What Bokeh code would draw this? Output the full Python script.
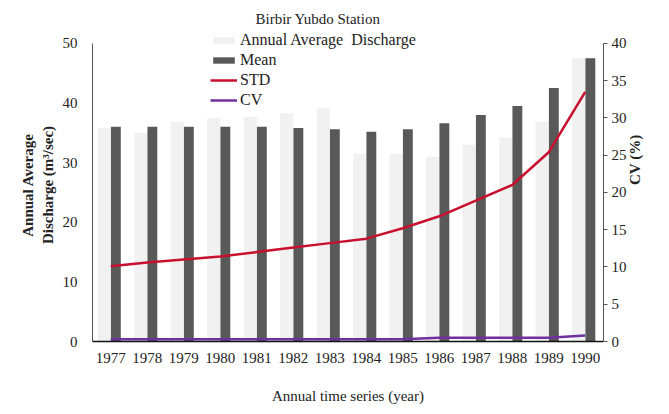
import math
from bokeh.plotting import figure
from bokeh.models import (Range1d, LinearAxis, Legend, LegendItem,
                          FactorRange, ColumnDataSource, FixedTicker)
from bokeh.transform import dodge
from bokeh.embed import file_html
from bokeh.resources import INLINE

years = ["1977", "1978", "1979", "1980", "1981", "1982", "1983",
         "1984", "1985", "1986", "1987", "1988", "1989", "1990"]
annual = [35.8, 35.0, 36.9, 37.5, 37.7, 38.3, 39.2,
          31.5, 31.5, 31.0, 33.0, 34.2, 36.9, 47.5]
mean = [36.0, 36.0, 36.0, 36.0, 36.0, 35.8, 35.6,
        35.2, 35.6, 36.6, 38.0, 39.5, 42.5, 47.5]
std = [10.1, 10.6, 11.0, 11.4, 12.0, 12.6, 13.2,
       13.8, 15.2, 16.8, 18.9, 21.0, 25.4, 33.5]
cv = [0.3, 0.3, 0.3, 0.3, 0.3, 0.3, 0.3,
      0.3, 0.3, 0.5, 0.5, 0.5, 0.5, 0.8]
left_ticks = [0, 10, 20, 30, 40, 50]
right_ticks = [0, 5, 10, 15, 20, 25, 30, 35, 40]

src = ColumnDataSource(dict(years=years, annual=annual, mean=mean, std=std, cv=cv))

FONT = "Liberation Serif"
TXT = "#222222"

p = figure(width=661, height=406, x_range=FactorRange(*years, range_padding=0),
           y_range=Range1d(0, 52.5), output_backend="svg", toolbar_location=None,
           min_border_left=92, min_border_right=58, min_border_top=28,
           min_border_bottom=63)
p.extra_y_ranges = {"cv": Range1d(0, 42)}
p.xgrid.visible = False
p.ygrid.visible = False
p.outline_line_color = None

p.title.text = "Birbir Yubdo Station"
p.title.align = "left"
p.title.offset = 163
p.title.standoff = 4
p.title.text_font = FONT
p.title.text_font_size = "15px"
p.title.text_font_style = "normal"
p.title.text_color = TXT

r_light = p.vbar(x=dodge("years", -0.18, range=p.x_range), top="annual", width=0.36,
                 source=src, fill_color="#F1F1F1", line_color=None)
r_dark = p.vbar(x=dodge("years", 0.14, range=p.x_range), top="mean", width=0.27,
                source=src, fill_color="#595959", line_color=None)
r_std = p.line(x="years", y="std", source=src, y_range_name="cv",
               line_color="#C8102E", line_width=2.5)
r_cv = p.line(x="years", y="cv", source=src, y_range_name="cv",
              line_color="#7030A0", line_width=2.5)

# left axis
ya = p.yaxis[0]
ya.ticker = FixedTicker(ticks=left_ticks)
ya.bounds = (0, 50)
ya.major_tick_line_color = None
ya.minor_tick_line_color = None
ya.major_label_standoff = 9
ya.axis_line_color = "#555555"
ya.major_label_text_font = FONT
ya.major_label_text_font_size = "15px"
ya.major_label_text_color = TXT
ya.axis_label = "Annual Average\nDischarge (m\u00b3/sec)"
ya.axis_label_text_font = FONT
ya.axis_label_text_font_size = "15px"
ya.axis_label_text_font_style = "bold"
ya.axis_label_text_color = TXT
ya.axis_label_standoff = 4

# right axis
ra = LinearAxis(y_range_name="cv", ticker=FixedTicker(ticks=right_ticks))
ra.bounds = (0, 40)
ra.major_tick_out = 4
ra.major_tick_in = 0
ra.minor_tick_line_color = None
ra.major_tick_line_color = "#555555"
ra.axis_line_color = "#555555"
ra.major_label_standoff = 4
ra.major_label_text_font = FONT
ra.major_label_text_font_size = "15px"
ra.major_label_text_color = TXT
ra.axis_label = "CV (%)"
ra.axis_label_text_font = FONT
ra.axis_label_text_font_size = "15px"
ra.axis_label_text_font_style = "bold"
ra.axis_label_text_color = TXT
ra.axis_label_standoff = 5
try:
    ra.axis_label_orientation = math.pi / 2
except Exception:
    pass
p.add_layout(ra, "right")

# bottom axis
xa = p.xaxis[0]
xa.major_tick_line_color = None
xa.axis_line_color = "#111111"
xa.axis_line_width = 1.5
xa.major_label_standoff = 5
xa.major_label_text_font = FONT
xa.major_label_text_font_size = "15px"
xa.major_label_text_color = TXT
xa.axis_label = "Annual time series (year)"
xa.axis_label_text_font = FONT
xa.axis_label_text_font_size = "15px"
xa.axis_label_text_font_style = "normal"
xa.axis_label_text_color = TXT
xa.axis_label_standoff = 22

legend = Legend(items=[
    LegendItem(label="Annual Average  Discharge", renderers=[r_light]),
    LegendItem(label="Mean", renderers=[r_dark]),
    LegendItem(label="STD", renderers=[r_std]),
    LegendItem(label="CV", renderers=[r_cv]),
], location=(118, 231), padding=0, spacing=0, margin=0,
    glyph_width=27, glyph_height=8, label_height=20, label_standoff=3,
    label_text_font=FONT, label_text_font_size="16px", label_text_color=TXT,
    border_line_color=None, background_fill_alpha=0)
p.add_layout(legend)

open("out.html", "w").write(file_html(p, INLINE))
